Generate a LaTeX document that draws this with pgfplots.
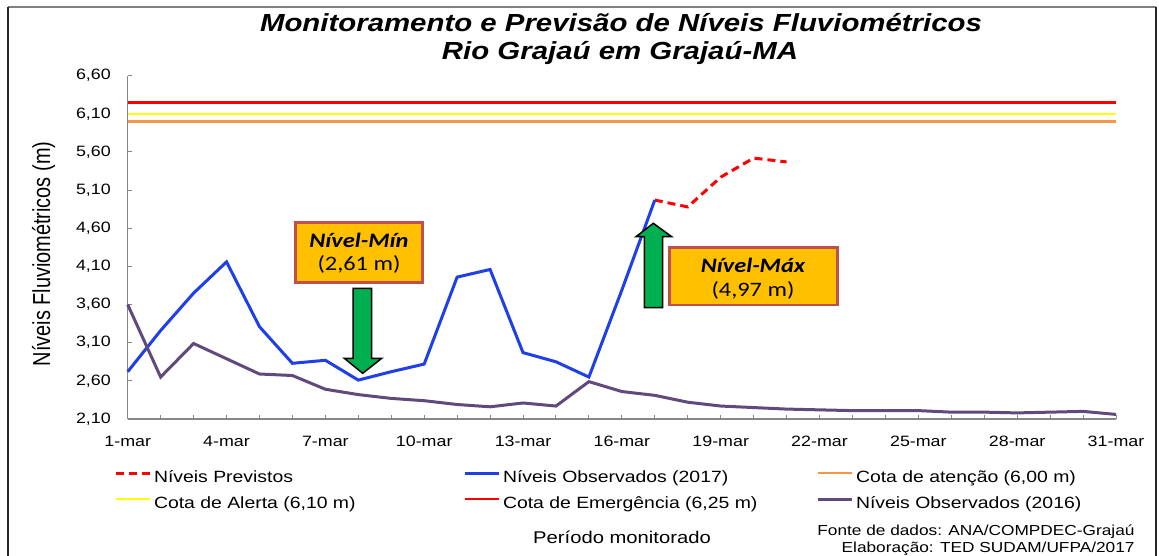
\documentclass[border=0pt]{standalone}
\usepackage{fontspec}
\setmainfont{Liberation Sans}[FakeStretch=1.19]
\newfontfamily\ylabfont{Liberation Sans}[FakeStretch=0.81]
\newfontfamily\calib{Carlito}[FakeStretch=1.19]
\usepackage{pgfplots}
\pgfplotsset{compat=1.18}
\definecolor{obs17}{HTML}{1F3FE8}
\definecolor{obs16}{HTML}{604A7B}
\definecolor{atenc}{HTML}{F79646}
\definecolor{alerta}{HTML}{FFFF00}
\definecolor{emerg}{HTML}{FF0000}
\definecolor{boxfill}{HTML}{FFC000}
\definecolor{boxline}{HTML}{C0504D}
\definecolor{arrowgreen}{HTML}{00B050}
\definecolor{axgray}{HTML}{878787}
\begin{document}
\begin{tikzpicture}
\useasboundingbox (0,0) rectangle (1159pt,-555pt);
\begin{axis}[
  at={(127.7pt,-419pt)}, anchor=south west,
  width=988.3pt, height=343.3pt, scale only axis,
  xmin=1, xmax=31, ymin=2.10, ymax=6.60,
  clip=false,
  axis x line*=bottom, axis y line*=left,
  axis line style={axgray, line width=1.3pt},
  xtick={1,4,...,31},
  xticklabels={1-mar,4-mar,7-mar,10-mar,13-mar,16-mar,19-mar,22-mar,25-mar,28-mar,31-mar},
  minor x tick num=2,
  ytick={2.1,2.6,3.1,3.6,4.1,4.6,5.1,5.6,6.1,6.6},
  yticklabel={\pgfmathprintnumber[assume math mode=true,fixed,fixed zerofill,precision=2,use comma]{\tick}},
  /pgf/number format/assume math mode=true,
  tick style={axgray, line width=1pt},
  major tick length=4.5pt, minor tick length=4.5pt,
  tick label style={font=\fontsize{15}{18}\selectfont, text=black},
  yticklabel style={inner sep=0pt, xshift=-16.7pt},
  xticklabel style={inner sep=0pt, yshift=-16.5pt},
  legend columns=3,
  legend style={draw=none, fill=none, inner sep=0pt, outer sep=0pt,
    at={(axis description cs:-0.01386,-0.210)}, anchor=west,
    font=\fontsize{16.3}{19}\selectfont,
    nodes={inner sep=0pt, text height=12pt, text depth=4pt},
    row sep=10pt,
    /tikz/every odd column/.append style={column sep=3pt},
    /tikz/every even column/.append style={column sep=0pt}},
  legend cell align=left,
  legend image code/.code={\draw[#1] (0pt,5pt) -- (34pt,5pt);},
]
% forecast
\addplot[emerg, line width=3pt, dash pattern=on 8pt off 5pt] coordinates {
 (17,4.97) (18,4.88) (19,5.27) (20,5.52) (21,5.47)};
\addlegendentry{\makebox[309pt][l]{Níveis Previstos}}
% observed 2017
\addplot[obs17, line width=3pt] coordinates {
 (1,2.72) (2,3.26) (3,3.75) (4,4.16) (5,3.31) (6,2.83) (7,2.87) (8,2.61)
 (9,2.72) (10,2.82) (11,3.96) (12,4.06) (13,2.97) (14,2.85) (15,2.65)
 (16,3.79) (17,4.97)};
\addlegendentry{\makebox[313pt][l]{Níveis Observados (2017)}}
\addplot[atenc, line width=2.5pt] coordinates {(1,6.00) (31,6.00)};
\addlegendentry{Cota de atenção (6,00 m)}
\addplot[alerta, line width=2.5pt] coordinates {(1,6.10) (31,6.10)};
\addlegendentry{\makebox[309pt][l]{Cota de Alerta (6,10 m)}}
\addplot[emerg, line width=2.5pt] coordinates {(1,6.25) (31,6.25)};
\addlegendentry{\makebox[313pt][l]{Cota de Emergência (6,25 m)}}
\addplot[obs16, line width=3pt] coordinates {
 (1,3.60) (2,2.65) (3,3.09) (4,2.89) (5,2.69) (6,2.67) (7,2.49) (8,2.42)
 (9,2.37) (10,2.34) (11,2.29) (12,2.26) (13,2.31) (14,2.27) (15,2.59)
 (16,2.46) (17,2.41) (18,2.32) (19,2.27) (20,2.25) (21,2.23) (22,2.22)
 (23,2.21) (24,2.21) (25,2.21) (26,2.19) (27,2.19) (28,2.18) (29,2.19)
 (30,2.20) (31,2.16)};
\addlegendentry{Níveis Observados (2016)}
\end{axis}
\begin{scope}[x=1pt,y=-1pt]
% frame
\draw[gray, line width=1.5pt] (8,7) -- (1156,7);
\draw[black!85, line width=1.5pt] (8,7) -- (8,556);
\draw[black!85, line width=1.5pt] (1156,7) -- (1156,556);
% title
\node[font=\fontsize{24.7}{29}\selectfont\bfseries\itshape, anchor=base] at (621,31) {Monitoramento e Previsão de Níveis Fluviométricos};
\node[font=\fontsize{24.7}{29}\selectfont\bfseries\itshape, anchor=base] at (620,59) {Rio Grajaú em Grajaú-MA};
% y label
\node[font=\ylabfont\fontsize{24.6}{29}\selectfont, rotate=90, anchor=base] at (50,254) {Níveis Fluviométricos (m)};
% footer
\node[font=\fontsize{17}{20}\selectfont, anchor=base] at (622,543) {Período monitorado};
\node[font=\fontsize{14.5}{17}\selectfont, anchor=base east] at (1138,535) {Fonte de dados: ANA/COMPDEC-Grajaú};
\node[font=\fontsize{14.5}{17}\selectfont, anchor=base east] at (1138,552) {Elaboração: TED SUDAM/UFPA/2017};
% Min box
\draw[fill=boxfill, draw=boxline, line width=2.5pt] (295.7,222.3) rectangle (422.3,282.3);
\node[font=\calib\fontsize{20.5}{24}\selectfont\bfseries\itshape] at (359,240) {Nível-Mín};
\node[font=\calib\fontsize{20.5}{24}\selectfont] at (359,264) {(2,61 m)};
\draw[fill=arrowgreen, draw=black, line width=1.5pt, line join=miter]
 (353,288.3) -- (353,358.3) -- (344.3,358.3) -- (362.7,373.3) -- (381.7,358.3) -- (371.7,358.3) -- (371.7,288.3) -- cycle;
% Max box
\draw[fill=boxfill, draw=boxline, line width=2.5pt] (669.3,247.3) rectangle (837.7,305);
\node[font=\calib\fontsize{20.5}{24}\selectfont\bfseries\itshape] at (753,265) {Nível-Máx};
\node[font=\calib\fontsize{20.5}{24}\selectfont] at (753,290) {(4,97 m)};
\draw[fill=arrowgreen, draw=black, line width=1.5pt, line join=miter]
 (644.3,307.7) -- (644.3,236.7) -- (636,236.7) -- (653.3,223.3) -- (671.7,236.7) -- (662.7,236.7) -- (662.7,307.7) -- cycle;
\end{scope}
\end{tikzpicture}
\end{document}
